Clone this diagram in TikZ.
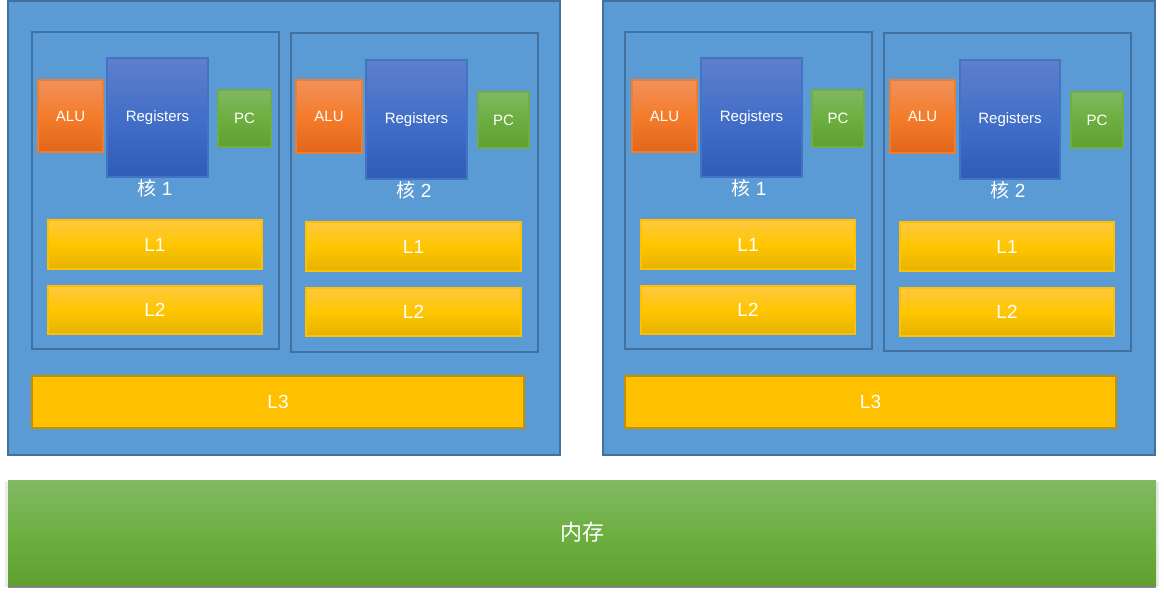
\documentclass[tikz,border=0pt]{standalone}
\usepackage{fontspec}
\setmainfont{Liberation Sans}
\newfontfamily\cjk{Noto Sans CJK SC}
\usetikzlibrary{shadows}
\definecolor{cpublue}{HTML}{5B9BD5}
\definecolor{cpuedge}{HTML}{41719C}
\definecolor{alutop}{HTML}{F0915C}
\definecolor{alumid}{HTML}{F47C2A}
\definecolor{alubot}{HTML}{E2661A}
\definecolor{aluedge}{HTML}{ED7D31}
\definecolor{regtop}{HTML}{5E80CC}
\definecolor{regmid}{HTML}{436FC8}
\definecolor{regbot}{HTML}{2E5DB6}
\definecolor{regedge}{HTML}{4472C4}
\definecolor{pctop}{HTML}{80B862}
\definecolor{pcmid}{HTML}{6DAE40}
\definecolor{pcbot}{HTML}{5F9F32}
\definecolor{pcedge}{HTML}{70AD47}
\definecolor{ctop}{HTML}{FFC840}
\definecolor{cmid}{HTML}{FFC600}
\definecolor{cbot}{HTML}{E4B200}
\definecolor{cedge}{HTML}{FFC000}
\definecolor{lthree}{HTML}{FFC000}
\definecolor{lthreeedge}{HTML}{C59000}
\definecolor{memtop}{HTML}{82B964}
\definecolor{memmid}{HTML}{6EAF42}
\definecolor{membot}{HTML}{60A033}
\tikzset{
  base/.style={inner sep=0pt, outer sep=0pt, anchor=north west, text=white, font=\fontsize{15}{18}\selectfont},
  cpubox/.style={base, fill=cpublue, draw=cpuedge, line width=1.8pt},
  corebox/.style={base, draw=cpuedge, line width=1.8pt},
  alubox/.style={base, draw=aluedge, line width=2pt, top color=alutop, bottom color=alubot, middle color=alumid},
  regbox/.style={base, draw=regedge, line width=2pt, top color=regtop, bottom color=regbot, middle color=regmid},
  pcbox/.style={base, draw=pcedge, line width=2pt, top color=pctop, bottom color=pcbot, middle color=pcmid},
  cachebox/.style={base, draw=cedge, line width=2pt, top color=ctop, bottom color=cbot, middle color=cmid, font=\fontsize{19}{22}\selectfont},
  lthreebox/.style={base, fill=lthree, draw=lthreeedge, line width=2pt, font=\fontsize{19}{22}\selectfont},
  membox/.style={base, top color=memtop, bottom color=membot, middle color=memmid,
    general shadow={shadow xshift=0pt, shadow yshift=-2pt, shadow scale=1.006, fill=black, opacity=0.08},
    general shadow={shadow xshift=0pt, shadow yshift=-2.5pt, fill=black, opacity=0.45},
    font=\fontsize{22}{25}\selectfont\cjk},
  corelabel/.style={text=white, inner sep=0pt, font=\fontsize{19}{22}\selectfont},
}
\newcommand\blk[7]{\node[#1, minimum width={#5-#3}, minimum height={#6-#4}] (#2) at (#3,#4) {#7};}
\begin{document}
\begin{tikzpicture}[x=1pt,y=-1pt]
\useasboundingbox (0,0) rectangle (1164,596);
% left CPU
\blk{cpubox}{cpuA}{8}{1}{560}{455}{}
\blk{corebox}{coreAa}{32}{32}{279}{349}{}
\blk{corebox}{coreAb}{291}{33}{538}{352}{}
\blk{alubox}{aluAa}{38}{80}{103}{152}{ALU}
\blk{regbox}{regAa}{107}{58}{208}{177}{Registers}
\blk{pcbox}{pcAa}{218}{90}{271}{147}{PC}
\node[corelabel] (labAa) at (155,188) {{\cjk 核} 1};
\blk{cachebox}{lAa1}{48}{220}{262}{269}{L1}
\blk{cachebox}{lAa2}{48}{286}{262}{334}{L2}
\blk{alubox}{aluAb}{296}{80}{362}{153}{ALU}
\blk{regbox}{regAb}{366}{60}{467}{179}{Registers}
\blk{pcbox}{pcAb}{478}{92}{529}{148}{PC}
\node[corelabel] (labAb) at (414,190) {{\cjk 核} 2};
\blk{cachebox}{lAb1}{306}{222}{521}{271}{L1}
\blk{cachebox}{lAb2}{306}{288}{521}{336}{L2}
\blk{lthreebox}{lAthree}{32}{376}{524}{428}{L3}
% right CPU
\blk{cpubox}{cpuB}{603}{1}{1155}{455}{}
\blk{corebox}{coreBa}{625}{32}{872}{349}{}
\blk{corebox}{coreBb}{884}{33}{1131}{351}{}
\blk{alubox}{aluBa}{632}{80}{697}{152}{ALU}
\blk{regbox}{regBa}{701}{58}{802}{177}{Registers}
\blk{pcbox}{pcBa}{812}{90}{864}{147}{PC}
\node[corelabel] (labBa) at (749,188) {{\cjk 核} 1};
\blk{cachebox}{lBa1}{641}{220}{855}{269}{L1}
\blk{cachebox}{lBa2}{641}{286}{855}{334}{L2}
\blk{alubox}{aluBb}{890}{80}{955}{153}{ALU}
\blk{regbox}{regBb}{960}{60}{1060}{179}{Registers}
\blk{pcbox}{pcBb}{1071}{92}{1123}{148}{PC}
\node[corelabel] (labBb) at (1008,190) {{\cjk 核} 2};
\blk{cachebox}{lBb1}{900}{222}{1114}{271}{L1}
\blk{cachebox}{lBb2}{900}{288}{1114}{336}{L2}
\blk{lthreebox}{lBthree}{625}{376}{1116}{428}{L3}
% memory
\blk{membox}{mem}{8}{480}{1156}{585}{内存}
\end{tikzpicture}
\end{document}
